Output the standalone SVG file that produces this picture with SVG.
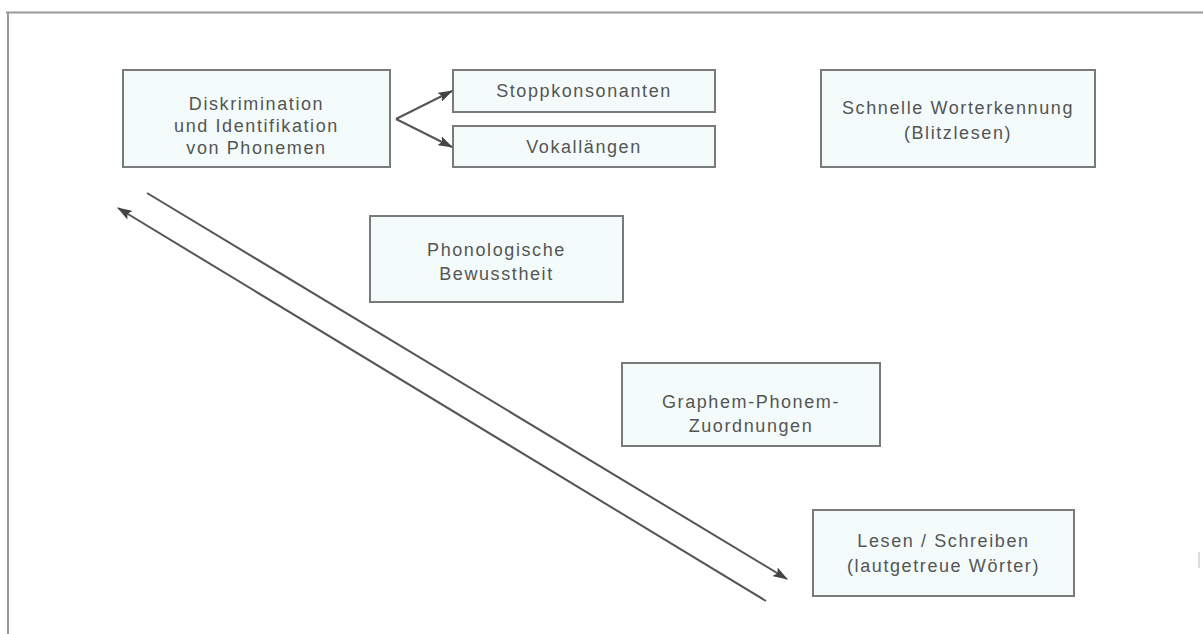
<svg xmlns="http://www.w3.org/2000/svg" width="1203" height="634" viewBox="0 0 1203 634">
  <style>
    .box { fill: #f3fbfb; stroke: #7a7a7a; stroke-width: 2; }
    .lbl { font-family: "Liberation Sans", Arial, sans-serif; font-size: 18px; letter-spacing: 1.6px; fill: #555; text-anchor: middle; }
    .conn { stroke: #555; stroke-width: 2; fill: none; marker-end: url(#arrow); }
    .frame { stroke: #9a9a9a; stroke-width: 2; fill: none; }
  </style>
  <defs>
    <marker id="arrow" viewBox="0 0 15 10" refX="14" refY="5" markerWidth="15" markerHeight="10" markerUnits="userSpaceOnUse" orient="auto">
      <path d="M0,0 L15,5 L0,10 L3,5 Z" fill="#444"/>
    </marker>
  </defs>

  <rect width="1203" height="634" fill="#ffffff"/>

  <!-- outer frame -->
  <g id="frame">
    <line class="frame" x1="6" y1="12.5" x2="1203" y2="12.5"/>
    <line class="frame" x1="8" y1="12" x2="8" y2="634"/>
    <line x1="1199" y1="552" x2="1199" y2="568" stroke="#dcdcdc" stroke-width="2"/>
  </g>

  <!-- nodes -->
  <g id="node-diskrimination">
    <rect class="box" x="123" y="70" width="267" height="97"/>
    <text class="lbl" x="256.5" y="110">Diskrimination</text>
    <text class="lbl" x="256.5" y="132">und Identifikation</text>
    <text class="lbl" x="256.5" y="154">von Phonemen</text>
  </g>

  <g id="node-stoppkonsonanten">
    <rect class="box" x="453" y="70" width="262" height="42"/>
    <text class="lbl" x="584" y="97">Stoppkonsonanten</text>
  </g>

  <g id="node-vokallaengen">
    <rect class="box" x="453" y="126" width="262" height="41"/>
    <text class="lbl" x="584" y="153">Vokallängen</text>
  </g>

  <g id="node-worterkennung">
    <rect class="box" x="821" y="70" width="274" height="97"/>
    <text class="lbl" x="958" y="114">Schnelle Worterkennung</text>
    <text class="lbl" x="958" y="139">(Blitzlesen)</text>
  </g>

  <g id="node-bewusstheit">
    <rect class="box" x="370" y="216" width="253" height="86"/>
    <text class="lbl" x="496.5" y="256">Phonologische</text>
    <text class="lbl" x="496.5" y="280">Bewusstheit</text>
  </g>

  <g id="node-zuordnungen">
    <rect class="box" x="622" y="363" width="258" height="83"/>
    <text class="lbl" x="751" y="408">Graphem-Phonem-</text>
    <text class="lbl" x="751" y="432">Zuordnungen</text>
  </g>

  <g id="node-lesen">
    <rect class="box" x="813" y="510" width="261" height="86"/>
    <text class="lbl" x="943.5" y="547">Lesen / Schreiben</text>
    <text class="lbl" x="943.5" y="572">(lautgetreue Wörter)</text>
  </g>

  <!-- connectors -->
  <g id="connectors">
    <line class="conn" x1="396" y1="119" x2="452" y2="91"/>
    <line class="conn" x1="396" y1="119" x2="452" y2="147"/>
    <line class="conn" x1="147" y1="193" x2="787" y2="579"/>
    <line class="conn" x1="766" y1="601" x2="118" y2="208"/>
  </g>
</svg>
